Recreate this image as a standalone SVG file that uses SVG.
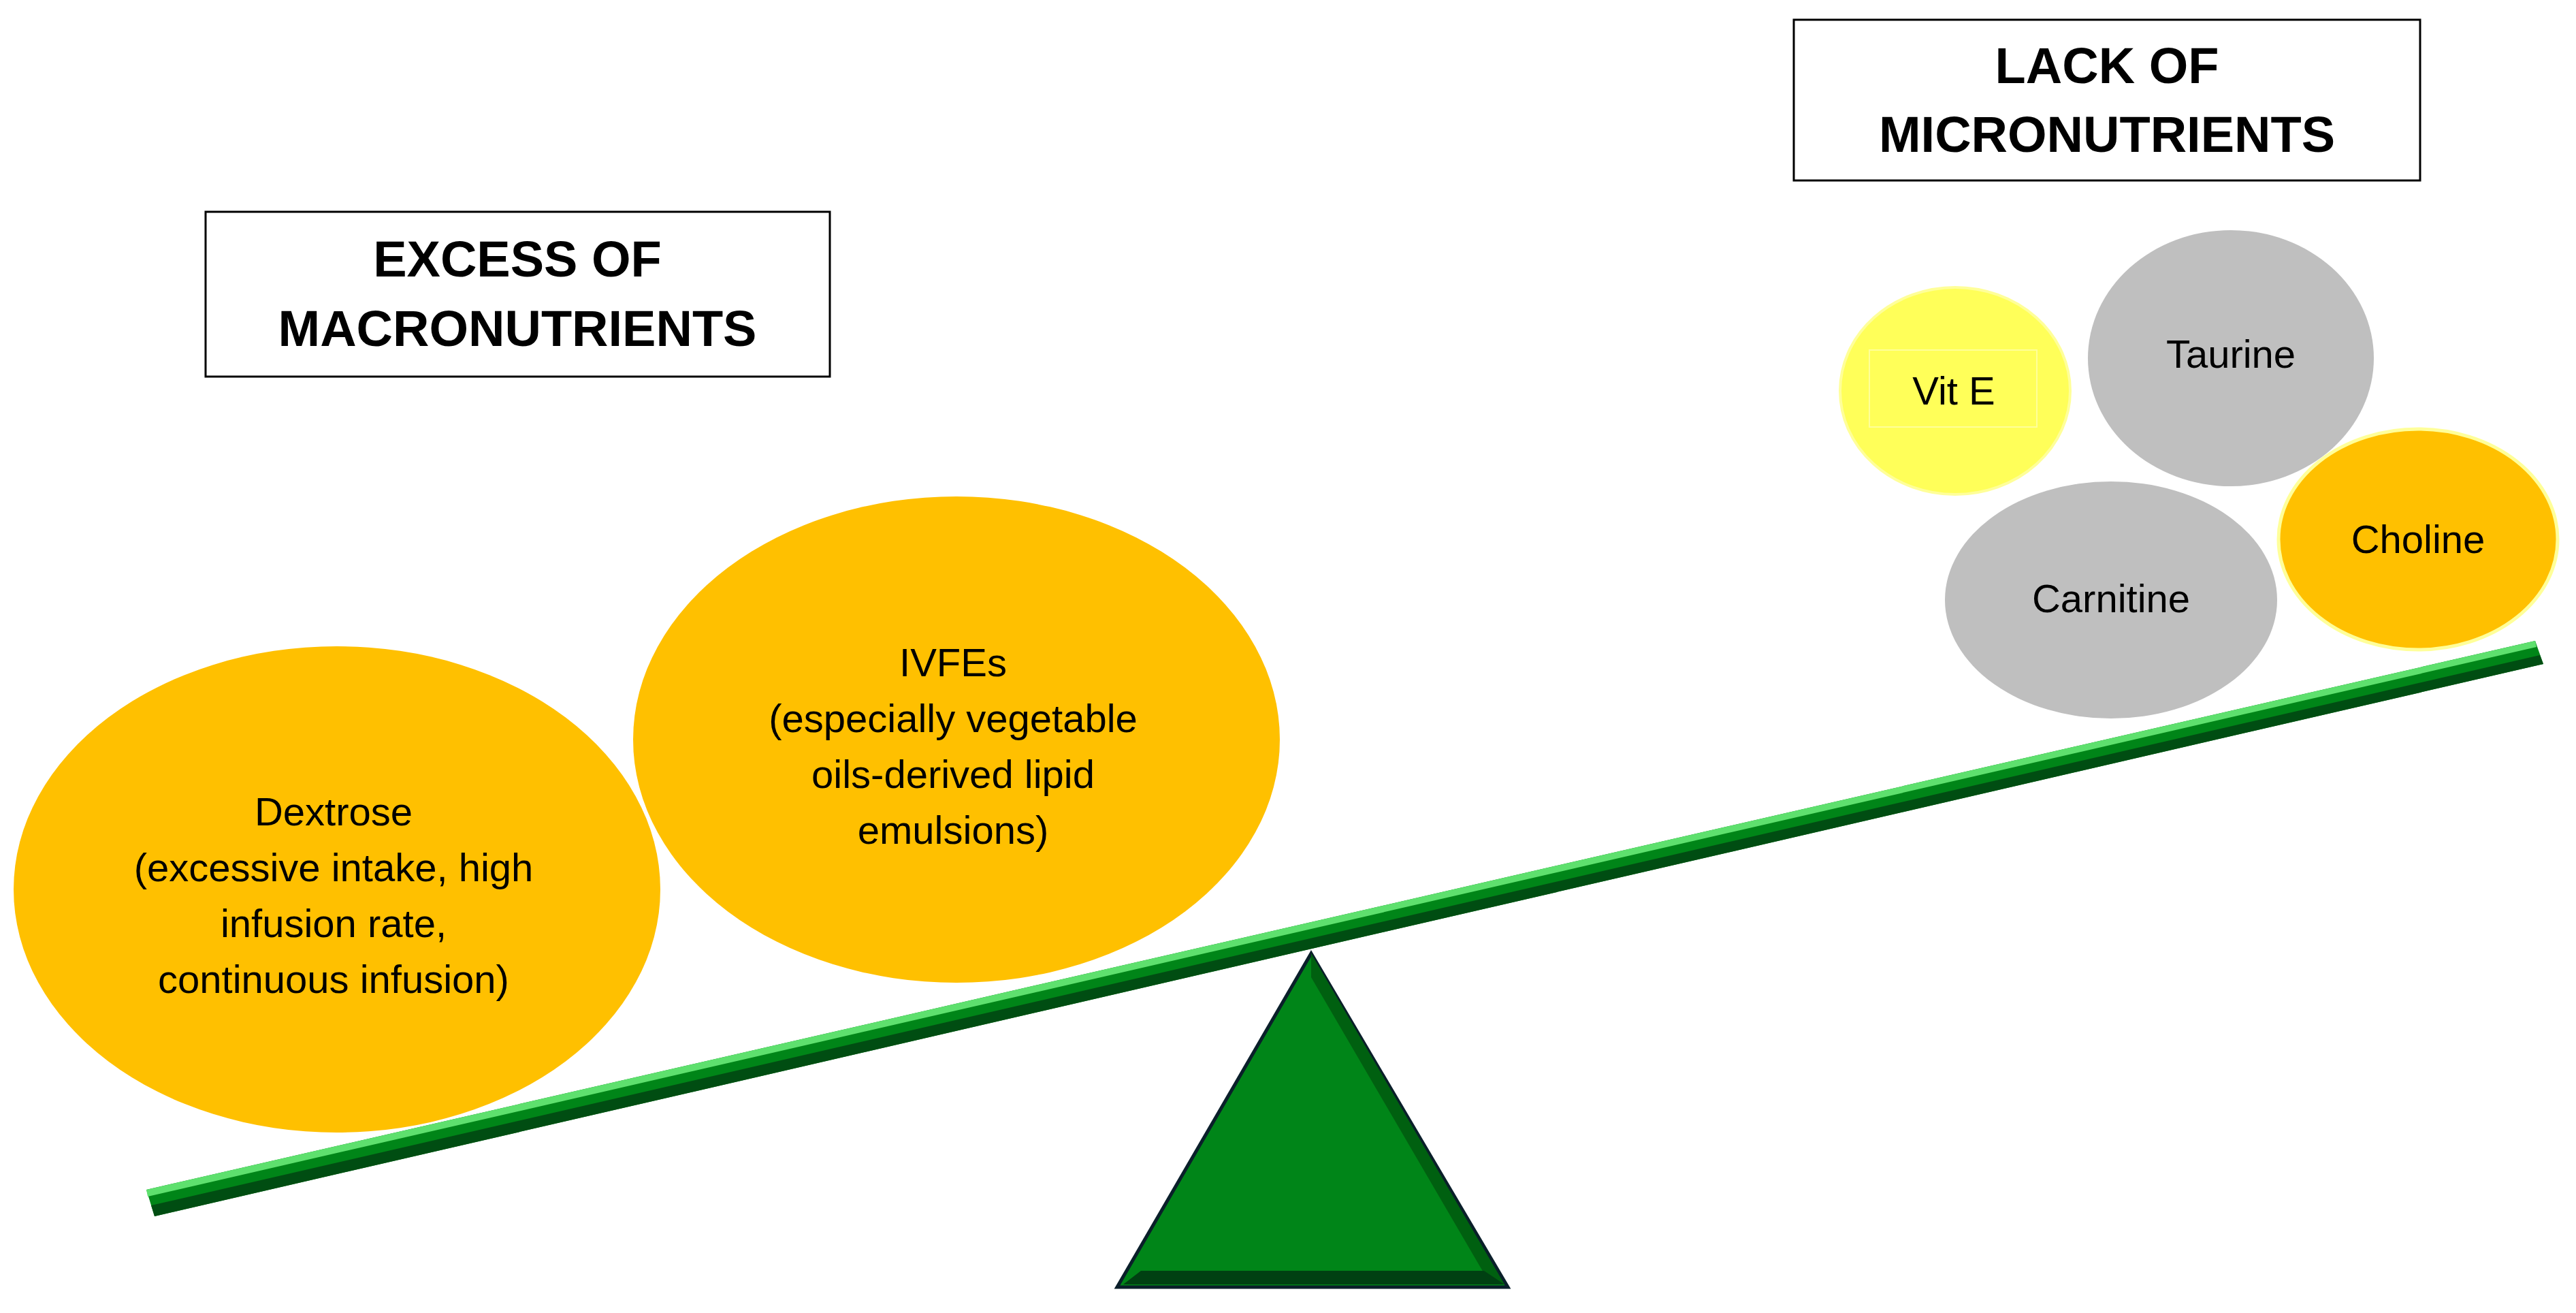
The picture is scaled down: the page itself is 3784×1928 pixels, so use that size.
<svg xmlns="http://www.w3.org/2000/svg" width="3784" height="1928" viewBox="0 0 3784 1928">
<style>
.t{font-family:"Liberation Sans",Arial,sans-serif;font-size:58px;fill:#000;text-anchor:middle}
.h{font-family:"Liberation Sans",Arial,sans-serif;font-size:74px;font-weight:bold;fill:#000;text-anchor:middle}
.box{fill:#fff;stroke:#000;stroke-width:3}
.or{fill:#FFC000}
.gr{fill:#BFBFBF}
</style>
<rect width="3784" height="1928" fill="#fff"/>
<g id="connectors">
<polygon points="215,1747 3724,941 3736,975 227,1786" fill="#008518"/>
<polygon points="215,1747 3724,941 3726,950 217,1757" fill="#5EE06E"/>
<polygon points="222,1770 3731,962 3736,975 227,1786" fill="#004D12"/>
</g>
<g id="fulcrum">
<polygon points="1926,1400 2215,1890 1641,1890" fill="#008518" stroke="#0A1F2A" stroke-width="5"/>
<polygon points="1926,1400 2210,1886 2180,1870 1926,1435" fill="#006010"/>
<polygon points="1650,1886 2210,1886 2180,1866 1676,1866" fill="#004012"/>
</g>
<g id="excess"><rect class="box" x="302" y="311" width="917" height="242"/>
<text class="h" x="760" y="406">EXCESS OF</text><text class="h" x="760" y="508">MACRONUTRIENTS</text></g>
<g id="lack"><rect class="box" x="2635" y="29" width="920" height="236"/>
<text class="h" x="3095" y="122">LACK OF</text><text class="h" x="3095" y="223">MICRONUTRIENTS</text></g>
<g id="dextrose"><ellipse class="or" cx="495" cy="1306" rx="475" ry="357"/>
<text class="t" x="490" y="1212">Dextrose</text><text class="t" x="490" y="1294">(excessive intake, high</text><text class="t" x="490" y="1376">infusion rate,</text><text class="t" x="490" y="1458">continuous infusion)</text></g>
<g id="ivfes"><ellipse class="or" cx="1405" cy="1086" rx="475" ry="357"/>
<text class="t" x="1400" y="993">IVFEs</text><text class="t" x="1400" y="1075">(especially vegetable</text><text class="t" x="1400" y="1157">oils-derived lipid</text><text class="t" x="1400" y="1239">emulsions)</text></g>
<g id="vite"><ellipse cx="2872" cy="574" rx="169" ry="152" fill="#FFFF59" stroke="#FFFF99" stroke-width="4"/>
<rect x="2746" y="514" width="246" height="113" fill="none" stroke="#FFFF99" stroke-width="2"/>
<text class="t" x="2870" y="594">Vit E</text></g>
<g id="taurine"><ellipse class="gr" cx="3277" cy="526" rx="210" ry="188"/><text class="t" x="3277" y="540">Taurine</text></g>
<g id="carnitine"><ellipse class="gr" cx="3101" cy="881" rx="244" ry="174"/><text class="t" x="3101" y="899">Carnitine</text></g>
<g id="choline"><ellipse class="or" cx="3552" cy="792" rx="205" ry="162" stroke="#FFFF99" stroke-width="5"/><text class="t" x="3552" y="812">Choline</text></g>
</svg>
